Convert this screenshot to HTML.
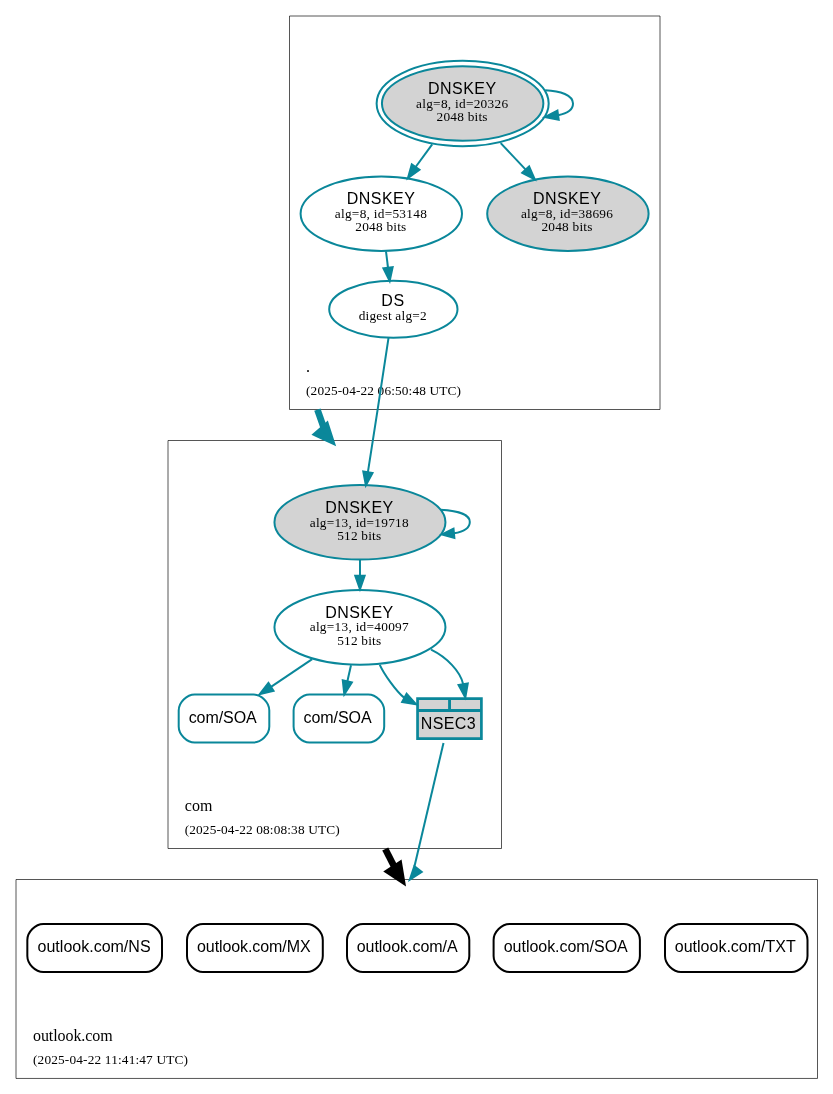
<!DOCTYPE html>
<html><head><meta charset="utf-8"><title>DNSViz outlook.com</title>
<style>
html,body{margin:0;padding:0;background:#fff;}
body{width:833px;height:1094px;overflow:hidden;font-family:"Liberation Sans",sans-serif;}
svg{display:block;will-change:transform;}
text{fill:#000;}
</style></head><body>
<svg width="833" height="1094" viewBox="0 0 833 1094">
<rect x="0" y="0" width="833" height="1094" fill="#fff"/>
<polygon fill="none" stroke="#000" stroke-width="0.667" points="289.5,409.5 289.5,16 660,16 660,409.5 289.5,409.5"/>
<text x="306" y="372" text-anchor="start" font-family='"Liberation Serif", serif' font-size="16">.</text>
<text x="306" y="395" text-anchor="start" font-family='"Liberation Serif", serif' font-size="13.33" textLength="155" lengthAdjust="spacing">(2025-04-22 06:50:48 UTC)</text>
<polygon fill="none" stroke="#000" stroke-width="0.667" points="168,848.5 168,440.5 501.5,440.5 501.5,848.5 168,848.5"/>
<text x="184.7" y="811" text-anchor="start" font-family='"Liberation Serif", serif' font-size="16" textLength="27.8" lengthAdjust="spacing">com</text>
<text x="184.7" y="834" text-anchor="start" font-family='"Liberation Serif", serif' font-size="13.33" textLength="155" lengthAdjust="spacing">(2025-04-22 08:08:38 UTC)</text>
<polygon fill="none" stroke="#000" stroke-width="0.667" points="16,1078.45 16,879.5 817.5,879.5 817.5,1078.45 16,1078.45"/>
<text x="33" y="1041" text-anchor="start" font-family='"Liberation Serif", serif' font-size="16" textLength="79.7" lengthAdjust="spacing">outlook.com</text>
<text x="33" y="1064" text-anchor="start" font-family='"Liberation Serif", serif' font-size="13.33" textLength="155" lengthAdjust="spacing">(2025-04-22 11:41:47 UTC)</text>
<ellipse fill="#d3d3d3" stroke="#0a879a" stroke-width="2" cx="462.65" cy="103.5" rx="80.7" ry="37.35"/>
<ellipse fill="none" stroke="#0a879a" stroke-width="2" cx="462.65" cy="103.5" rx="86.03" ry="42.68"/>
<text x="462.05" y="94" text-anchor="middle" font-family='"Liberation Sans", sans-serif' font-size="16" textLength="68" lengthAdjust="spacing">DNSKEY</text>
<text x="462.05" y="108" text-anchor="middle" font-family='"Liberation Serif", serif' font-size="13.33" textLength="92" lengthAdjust="spacing">alg=8, id=20326</text>
<text x="462.05" y="121" text-anchor="middle" font-family='"Liberation Serif", serif' font-size="13.33" textLength="51" lengthAdjust="spacing">2048 bits</text>
<ellipse fill="#fff" stroke="#0a879a" stroke-width="2" cx="381.3" cy="213.75" rx="80.7" ry="37.3"/>
<text x="380.8" y="204" text-anchor="middle" font-family='"Liberation Sans", sans-serif' font-size="16" textLength="68" lengthAdjust="spacing">DNSKEY</text>
<text x="380.8" y="218" text-anchor="middle" font-family='"Liberation Serif", serif' font-size="13.33" textLength="92" lengthAdjust="spacing">alg=8, id=53148</text>
<text x="380.8" y="231" text-anchor="middle" font-family='"Liberation Serif", serif' font-size="13.33" textLength="51" lengthAdjust="spacing">2048 bits</text>
<ellipse fill="#d3d3d3" stroke="#0a879a" stroke-width="2" cx="567.9" cy="213.75" rx="80.7" ry="37.3"/>
<text x="566.9" y="204" text-anchor="middle" font-family='"Liberation Sans", sans-serif' font-size="16" textLength="68" lengthAdjust="spacing">DNSKEY</text>
<text x="566.9" y="218" text-anchor="middle" font-family='"Liberation Serif", serif' font-size="13.33" textLength="92" lengthAdjust="spacing">alg=8, id=38696</text>
<text x="566.9" y="231" text-anchor="middle" font-family='"Liberation Serif", serif' font-size="13.33" textLength="51" lengthAdjust="spacing">2048 bits</text>
<ellipse fill="#fff" stroke="#0a879a" stroke-width="2" cx="393.35" cy="309.15" rx="64.15" ry="28.5"/>
<text x="392.7" y="306" text-anchor="middle" font-family='"Liberation Sans", sans-serif' font-size="16" textLength="23" lengthAdjust="spacing">DS</text>
<text x="392.7" y="320" text-anchor="middle" font-family='"Liberation Serif", serif' font-size="13.33" textLength="68" lengthAdjust="spacing">digest alg=2</text>
<ellipse fill="#d3d3d3" stroke="#0a879a" stroke-width="2" cx="359.95" cy="522.25" rx="85.5" ry="37.3"/>
<text x="359.2" y="513" text-anchor="middle" font-family='"Liberation Sans", sans-serif' font-size="16" textLength="68" lengthAdjust="spacing">DNSKEY</text>
<text x="359.2" y="527" text-anchor="middle" font-family='"Liberation Serif", serif' font-size="13.33" textLength="99" lengthAdjust="spacing">alg=13, id=19718</text>
<text x="359.2" y="540" text-anchor="middle" font-family='"Liberation Serif", serif' font-size="13.33" textLength="44" lengthAdjust="spacing">512 bits</text>
<ellipse fill="#fff" stroke="#0a879a" stroke-width="2" cx="359.95" cy="627.35" rx="85.5" ry="37.3"/>
<text x="359.2" y="618" text-anchor="middle" font-family='"Liberation Sans", sans-serif' font-size="16" textLength="68" lengthAdjust="spacing">DNSKEY</text>
<text x="359.2" y="631" text-anchor="middle" font-family='"Liberation Serif", serif' font-size="13.33" textLength="99" lengthAdjust="spacing">alg=13, id=40097</text>
<text x="359.2" y="645" text-anchor="middle" font-family='"Liberation Serif", serif' font-size="13.33" textLength="44" lengthAdjust="spacing">512 bits</text>
<path fill="#fff" stroke="#0a879a" stroke-width="2" d="M253.3,694.5 C253.3,694.5 194.7,694.5 194.7,694.5 C186.7,694.5 178.7,702.5 178.7,710.5 C178.7,710.5 178.7,726.5 178.7,726.5 C178.7,734.5 186.7,742.5 194.7,742.5 C194.7,742.5 253.3,742.5 253.3,742.5 C261.3,742.5 269.3,734.5 269.3,726.5 C269.3,726.5 269.3,710.5 269.3,710.5 C269.3,702.5 261.3,694.5 253.3,694.5"/>
<text x="222.7" y="723" text-anchor="middle" font-family='"Liberation Sans", sans-serif' font-size="16" textLength="68" lengthAdjust="spacing">com/SOA</text>
<path fill="#fff" stroke="#0a879a" stroke-width="2" d="M368.2,694.5 C368.2,694.5 309.6,694.5 309.6,694.5 C301.6,694.5 293.6,702.5 293.6,710.5 C293.6,710.5 293.6,726.5 293.6,726.5 C293.6,734.5 301.6,742.5 309.6,742.5 C309.6,742.5 368.2,742.5 368.2,742.5 C376.2,742.5 384.2,734.5 384.2,726.5 C384.2,726.5 384.2,710.5 384.2,710.5 C384.2,702.5 376.2,694.5 368.2,694.5"/>
<text x="337.6" y="723" text-anchor="middle" font-family='"Liberation Sans", sans-serif' font-size="16" textLength="68" lengthAdjust="spacing">com/SOA</text>
<polygon fill="#d3d3d3" stroke="none" points="417.55,698.55 481.4,698.55 481.4,738.55 417.55,738.55"/>
<polygon fill="none" stroke="#0a879a" stroke-width="2.7" points="417.55,738.55 417.55,698.55 481.4,698.55 481.4,738.55 417.55,738.55"/>
<path fill="none" stroke="#0a879a" stroke-width="3.1" d="M417.55,710.55L481.4,710.55"/>
<path fill="none" stroke="#0a879a" stroke-width="2.9" d="M449.55,698.55L449.55,710.55"/>
<text x="448.2" y="729" text-anchor="middle" font-family='"Liberation Sans", sans-serif' font-size="16" textLength="55" lengthAdjust="spacing">NSEC3</text>
<path fill="#fff" stroke="#000" stroke-width="2" d="M146,924 C146,924 43.33,924 43.33,924 C35.33,924 27.33,932 27.33,940 C27.33,940 27.33,956 27.33,956 C27.33,964 35.33,972 43.33,972 C43.33,972 146,972 146,972 C154,972 162,964 162,956 C162,956 162,940 162,940 C162,932 154,924 146,924"/>
<text x="94.06" y="952" text-anchor="middle" font-family='"Liberation Sans", sans-serif' font-size="16" textLength="113" lengthAdjust="spacing">outlook.com/NS</text>
<path fill="#fff" stroke="#000" stroke-width="2" d="M306.8,924 C306.8,924 203,924 203,924 C195,924 187,932 187,940 C187,940 187,956 187,956 C187,964 195,972 203,972 C203,972 306.8,972 306.8,972 C314.8,972 322.8,964 322.8,956 C322.8,956 322.8,940 322.8,940 C322.8,932 314.8,924 306.8,924"/>
<text x="253.8" y="952" text-anchor="middle" font-family='"Liberation Sans", sans-serif' font-size="16" textLength="113.6" lengthAdjust="spacing">outlook.com/MX</text>
<path fill="#fff" stroke="#000" stroke-width="2" d="M453.3,924 C453.3,924 363,924 363,924 C355,924 347,932 347,940 C347,940 347,956 347,956 C347,964 355,972 363,972 C363,972 453.3,972 453.3,972 C461.3,972 469.3,964 469.3,956 C469.3,956 469.3,940 469.3,940 C469.3,932 461.3,924 453.3,924"/>
<text x="407.15" y="952" text-anchor="middle" font-family='"Liberation Sans", sans-serif' font-size="16" textLength="101" lengthAdjust="spacing">outlook.com/A</text>
<path fill="#fff" stroke="#000" stroke-width="2" d="M623.9,924 C623.9,924 509.6,924 509.6,924 C501.6,924 493.6,932 493.6,940 C493.6,940 493.6,956 493.6,956 C493.6,964 501.6,972 509.6,972 C509.6,972 623.9,972 623.9,972 C631.9,972 639.9,964 639.9,956 C639.9,956 639.9,940 639.9,940 C639.9,932 631.9,924 623.9,924"/>
<text x="565.75" y="952" text-anchor="middle" font-family='"Liberation Sans", sans-serif' font-size="16" textLength="124" lengthAdjust="spacing">outlook.com/SOA</text>
<path fill="#fff" stroke="#000" stroke-width="2" d="M791.5,924 C791.5,924 681,924 681,924 C673,924 665,932 665,940 C665,940 665,956 665,956 C665,964 673,972 681,972 C681,972 791.5,972 791.5,972 C799.5,972 807.5,964 807.5,956 C807.5,956 807.5,940 807.5,940 C807.5,932 799.5,924 791.5,924"/>
<text x="735.25" y="952" text-anchor="middle" font-family='"Liberation Sans", sans-serif' font-size="16" textLength="121" lengthAdjust="spacing">outlook.com/TXT</text>
<polygon fill="#0a879a" stroke="#0a879a" stroke-width="2" points="557.41,110.57 544.86,117.05 558.71,119.81 557.41,110.57"/>
<path fill="none" stroke="#0a879a" stroke-width="2" d="M545.2,90.2C560.5,90.8 573,95.2 573,103.6 573,110.2 567.5,113.6 558.06,115.19"/>
<polygon fill="#0a879a" stroke="#0a879a" stroke-width="2" points="411.81,164.33 407.95,177.92 419.44,169.7 411.81,164.33"/>
<path fill="none" stroke="#0a879a" stroke-width="2" d="M432.2,144.3L415.62,167.02"/>
<polygon fill="#0a879a" stroke="#0a879a" stroke-width="2" points="522.25,172.75 534.73,179.38 529.11,166.42 522.25,172.75"/>
<path fill="none" stroke="#0a879a" stroke-width="2" d="M500.7,143.1L525.68,169.58"/>
<polygon fill="#0a879a" stroke="#0a879a" stroke-width="2" points="383.39,268.37 389.68,281.02 392.65,267.21 383.39,268.37"/>
<path fill="none" stroke="#0a879a" stroke-width="2" d="M386.0,251.4L388.02,267.79"/>
<polygon fill="#0a879a" stroke="#0a879a" stroke-width="2" points="363.29,471.48 365.87,485.37 372.51,472.9 363.29,471.48"/>
<path fill="none" stroke="#0a879a" stroke-width="2" d="M388.6,337.3C384,368 374,434 367.9,472.19"/>
<polygon fill="#0a879a" stroke="#0a879a" stroke-width="2" points="453.53,528.7 441.9,534.45 454.37,538 453.53,528.7"/>
<path fill="none" stroke="#0a879a" stroke-width="2" d="M440.6,509.8C456.5,510.6 469.8,514.2 469.8,521.9 469.8,528.2 464,531.6 453.95,533.35"/>
<polygon fill="#0a879a" stroke="#0a879a" stroke-width="2" points="355.3,575.87 359.97,589.2 364.64,575.87 355.3,575.87"/>
<path fill="none" stroke="#0a879a" stroke-width="2" d="M359.97,559.5L359.97,576"/>
<polygon fill="#0a879a" stroke="#0a879a" stroke-width="2" points="268.48,682.97 259.79,694.1 273.53,690.82 268.48,682.97"/>
<path fill="none" stroke="#0a879a" stroke-width="2" d="M312.2,659.1L271.01,686.89"/>
<polygon fill="#0a879a" stroke="#0a879a" stroke-width="2" points="342.78,680.37 344.31,694.41 351.87,682.48 342.78,680.37"/>
<path fill="none" stroke="#0a879a" stroke-width="2" d="M351.0,665.3L347.32,681.42"/>
<polygon fill="#0a879a" stroke="#0a879a" stroke-width="2" points="402.15,701.98 416.1,704.23 406.6,693.77 402.15,701.98"/>
<path fill="none" stroke="#0a879a" stroke-width="2" d="M379.8,664.8C383.8,673.8 396.3,691.5 404.38,697.88"/>
<polygon fill="#0a879a" stroke="#0a879a" stroke-width="2" points="458.56,685.04 465.32,697.44 467.77,683.53 458.56,685.04"/>
<path fill="none" stroke="#0a879a" stroke-width="2" d="M431.1,649.7C447,657.5 460.5,671.5 463.16,684.29"/>
<polygon fill="#0a879a" stroke="#0a879a" stroke-width="2" points="414.35,866.18 409.86,879.57 421.72,871.9 414.35,866.18"/>
<path fill="none" stroke="#0a879a" stroke-width="2" d="M443.5,742.9L414.5,866.3"/>
<polygon fill="#0a879a" stroke="#0a879a" stroke-width="6.67" points="317.47,433.95 330.65,440.12 326.23,426.26 317.47,433.95"/>
<path fill="none" stroke="#0a879a" stroke-width="6.67" d="M317.4,409.6L324.0,428.3"/>
<polygon fill="#000" stroke="#000" stroke-width="6.67" points="389.33,871.48 401.5,879.46 399.11,865.11 389.33,871.48"/>
<path fill="none" stroke="#000" stroke-width="6.67" d="M385.25,848.9L394.3,866.7"/>
</svg>
</body></html>
